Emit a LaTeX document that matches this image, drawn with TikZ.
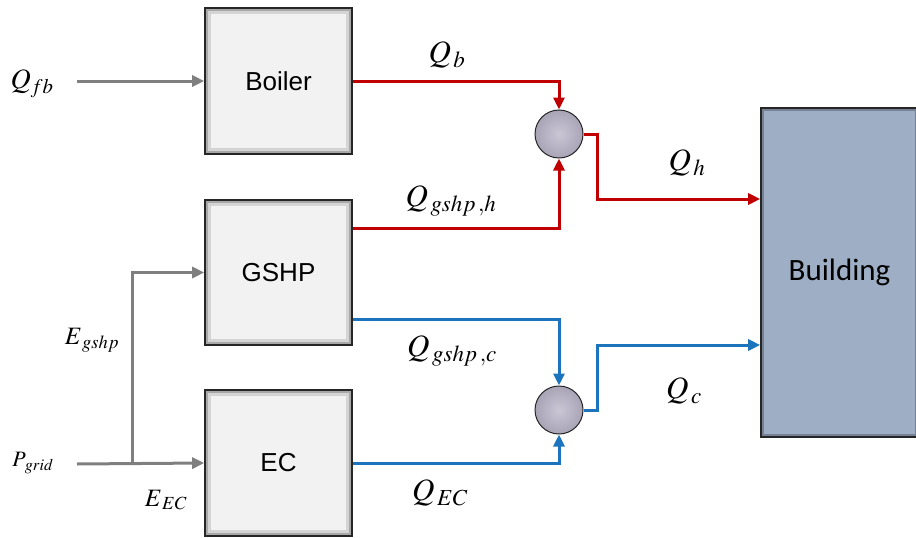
\documentclass[tikz,border=0pt]{standalone}
\usepackage{mathptmx}
\usepackage{fontspec}
\usepackage{tikz}
\usepackage{xcolor}
\usetikzlibrary{arrows.meta, positioning, calc}
\newfontfamily\unitfont{Liberation Sans}
\newfontfamily\bldgfont{Carlito}
\definecolor{HeatRed}{HTML}{C00000}
\definecolor{CoolBlue}{HTML}{1C74BC}
\definecolor{FeedGray}{HTML}{7F7F7F}
\definecolor{UnitFill}{HTML}{F2F2F2}
\definecolor{UnitEdge}{HTML}{262626}
\definecolor{BldgFill}{HTML}{9EAEC5}
\definecolor{SumLight}{HTML}{CAC6D6}
\definecolor{SumDark}{HTML}{A8A4B6}
\tikzset{
    unit/.style={
        draw=UnitEdge,
        line width=1.6pt,
        fill=UnitFill,
        minimum width=147pt,
        minimum height=146pt,
        text=black,
        font=\unitfont\fontsize{26}{28}\selectfont,
        inner sep=0pt,
        path picture={
            \draw[black, opacity=0.30, line width=3pt]
                ($(path picture bounding box.south west)+(1.5pt,1.5pt)$) rectangle
                ($(path picture bounding box.north east)+(-1.5pt,-1.5pt)$);
            \draw[black, opacity=0.12, line width=3pt]
                ($(path picture bounding box.south west)+(4.5pt,4.5pt)$) rectangle
                ($(path picture bounding box.north east)+(-4.5pt,-4.5pt)$);
        }
    },
    bldg/.style={
        draw=UnitEdge,
        line width=1.6pt,
        fill=BldgFill,
        minimum width=157pt,
        minimum height=329pt,
        font=\bldgfont\fontsize{31}{33}\selectfont,
        inner sep=0pt,
        path picture={
            \draw[black, opacity=0.25, line width=3pt]
                ($(path picture bounding box.south west)+(1.5pt,1.5pt)$) rectangle
                ($(path picture bounding box.north east)+(-1.5pt,-1.5pt)$);
        }
    },
    sum/.style={
        circle,
        draw=UnitEdge,
        line width=1pt,
        inner color=SumLight,
        outer color=SumDark,
        minimum size=48pt,
        inner sep=0pt
    },
    flow/.style={
        -{Triangle[length=12pt,width=11pt]},
        line width=3pt,
        #1
    },
    flow/.default=FeedGray,
    qlabel/.style={
        font=\fontsize{31}{33}\selectfont,
        inner sep=1pt
    },
    elabel/.style={
        font=\fontsize{25}{27}\selectfont,
        inner sep=1pt
    }
}
\begin{document}
\begin{tikzpicture}[x=1pt, y=-1pt]
        \useasboundingbox (0,0) rectangle (916,538);

        % Units
        \node[unit] (boiler) at (278.5,81) {Boiler};
        \node[unit, minimum height=145pt] (gshp) at (278.5,272.5) {GSHP};
        \node[unit] (ec) at (278.5,463) {EC};
        \node[bldg] (bldg) at (839.5,272.5) {Building};

        % Summing points
        \node[sum] (sumh) at (559,134) {};
        \node[sum] (sumc) at (559,410) {};

        % Inputs
        \coordinate (fbin) at (77,81);
        \coordinate (gridin) at (77,464);
        \coordinate (split) at (132,464);
        \draw[flow] (fbin) -- (boiler.west);
        \draw[flow] (gridin) -- (ec.west);
        \draw[flow] (split) |- (gshp.west);

        % Heating side
        \draw[flow=HeatRed] (boiler.east) -| (sumh.north);
        \draw[flow=HeatRed] ([yshift=44.5pt]gshp.east) -| (sumh.south);
        \draw[flow=HeatRed] (sumh.east) -- ++(14,0) |- ([yshift=73.5pt]bldg.west);

        % Cooling side
        \draw[flow=CoolBlue] ([yshift=-46.5pt]gshp.east) -| (sumc.north);
        \draw[flow=CoolBlue] (ec.east) -| (sumc.south);
        \draw[flow=CoolBlue] (sumc.east) -- ++(14,0) |- ([yshift=-72.5pt]bldg.west);

        % Labels
        \node[qlabel, font=\fontsize{28}{30}\selectfont] (lqfb) at (32,84) {$Q_{fb}$};
        \node[elabel, font=\fontsize{22}{24}\selectfont] (lpgrid) at (33,463) {$P_{\,grid}$};
        \node[elabel] (legshp) at (92,340) {$E_{\,gshp}$};
        \node[elabel] (leec) at (166,500) {$E_{\,EC}$};
        \node[qlabel] (lqb) at (447,55) {$Q_{\,b}$};
        \node[qlabel] (lqgh) at (451,201) {$Q_{\,gshp\,,h}$};
        \node[qlabel] (lqgc) at (452,351) {$Q_{\,gshp\,,c}$};
        \node[qlabel] (lqec) at (440,493) {$Q_{\,EC}$};
        \node[qlabel] (lqh) at (687,163) {$Q_{\,h}$};
        \node[qlabel] (lqc) at (684,391) {$Q_{\,c}$};
    \end{tikzpicture}
\end{document}
